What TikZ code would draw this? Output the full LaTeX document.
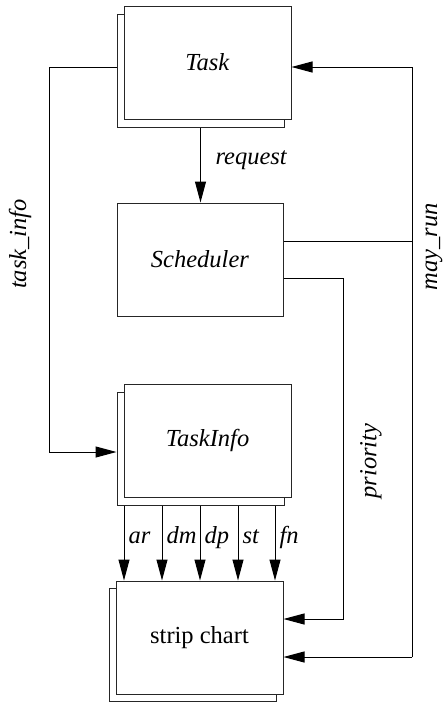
\documentclass[tikz,border=0pt]{standalone}
\usepackage{fontspec}
\setmainfont{Liberation Serif}
\usetikzlibrary{arrows.meta,calc}
\begin{document}
\begin{tikzpicture}[x=1pt,y=-1pt,
  line width=1pt,
  every node/.style={font=\fontsize{24.5}{29}\selectfont},
  box/.style={draw=black!85, fill=white, minimum width=167pt, minimum height=113pt, inner sep=0pt},
  flow/.style={-{Triangle[length=21pt,width=11pt]}},
  lbl/.style={inner sep=0pt, font=\fontsize{24.5}{29}\selectfont\itshape}]
\useasboundingbox (0,0) rectangle (444,702);

% stacked boxes: a copy drawn behind, shifted down-left
\node[box] (taskB) at (200.5,70.5) {};
\node[box] (task) at (207.5,62.5) {\textit{Task}};

\node[box, minimum width=166pt] (sched) at (200,259.5) {\textit{Scheduler}};

\node[box] (infoB) at (200.5,448.5) {};
\node[box] (info) at (207.5,440.5) {\textit{TaskInfo}};

\node[box] (stripB) at (192.5,644.5) {};
\node[box] (strip) at (199.5,637.5) {strip chart};

% bend points of the connectors
\coordinate (tl) at (49,67);
\coordinate (bl) at (49,452);
\coordinate (tr) at (412,67);
\coordinate (mr) at (412,241);
\coordinate (br) at (412,657);
\coordinate (pt) at (343,278);
\coordinate (pb) at (343,619);

% task_info: Task -> TaskInfo
\draw[flow] (taskB.west |- tl) -- (tl) -- (bl) -- (infoB.west |- bl);
\node[lbl, rotate=90] (ltaskinfo) at (20,244) {task\_info};

% request: Task -> Scheduler
\draw[flow] (taskB.south) -- (taskB.south |- sched.north);
\node[lbl, anchor=base west] (lrequest) at (215,164) {request};

% may_run: Scheduler -> Task and strip chart
\draw (sched.east |- mr) -- (mr);
\draw[flow] (br) -- (tr) -- (task.east |- tr);
\draw[flow] (br) -- (strip.east |- br);
\node[lbl, rotate=90] (lmayrun) at (434,247) {may\_run};

% priority: Scheduler -> strip chart
\draw[flow] (sched.east |- pt) -- (pt) -- (pb) -- (strip.east |- pb);
\node[lbl, rotate=90] (lpriority) at (371,461) {priority};

% fields: TaskInfo -> strip chart
\foreach \xx/\lab in {124/ar,162/dm,200/dp,238/st,275/fn} {
  \draw[flow] (infoB.south -| \xx,0) -- (strip.north -| \xx,0);
  \node[lbl, anchor=base west] (l\lab) at (\xx+4,543) {\lab};
}
\end{tikzpicture}
\end{document}
